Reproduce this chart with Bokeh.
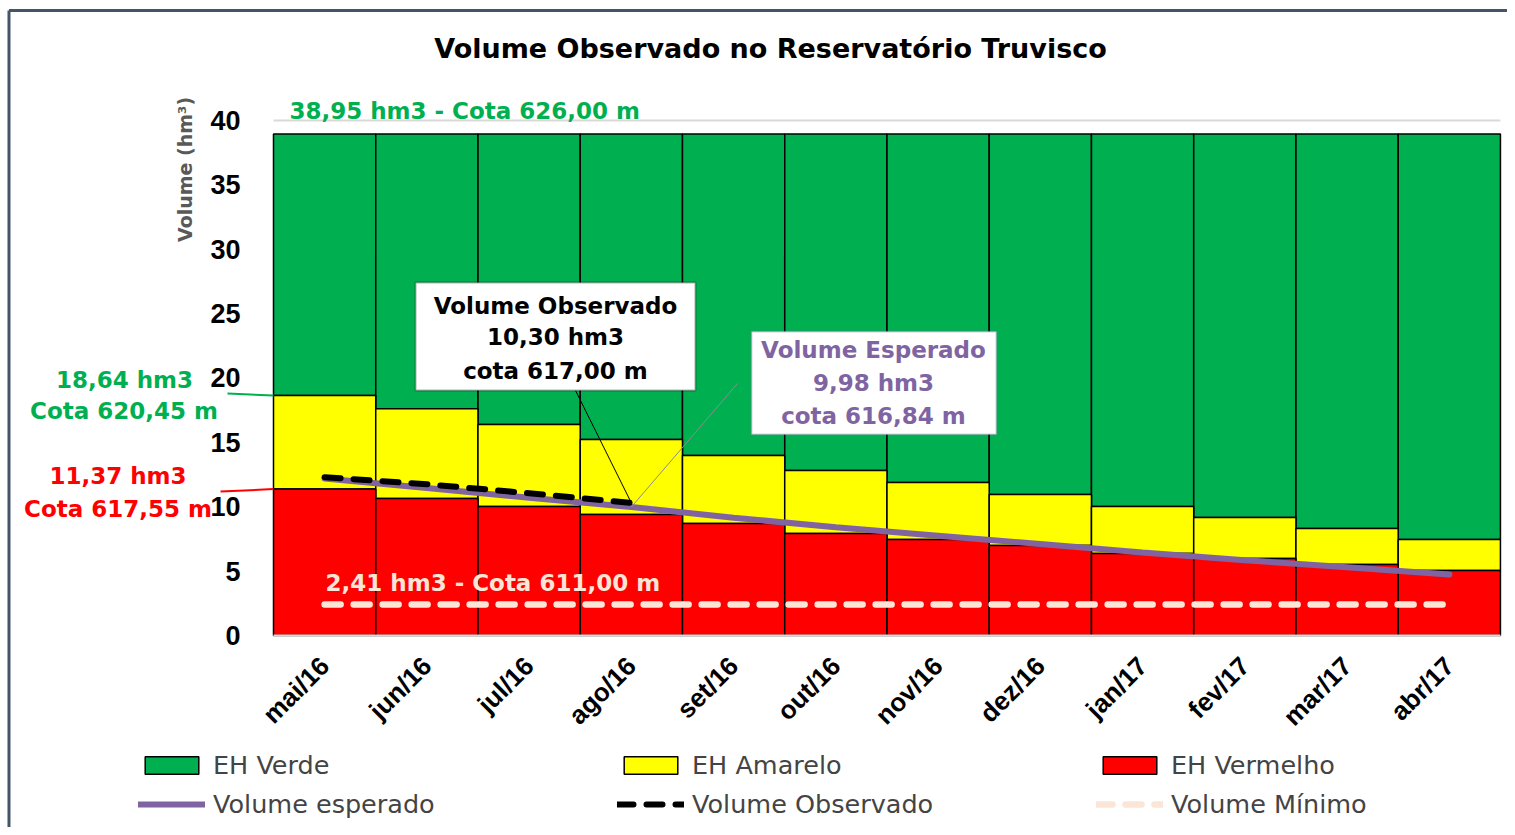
import math
from bokeh.plotting import figure
from bokeh.models import (ColumnDataSource, Range1d, Label, Legend, LegendItem,
                          BoxAnnotation, Arrow, FixedTicker, LinearAxis)
from bokeh.embed import file_html
from bokeh.resources import INLINE

# ---------------- data ----------------
meses = ["mai/16", "jun/16", "jul/16", "ago/16", "set/16", "out/16",
         "nov/16", "dez/16", "jan/17", "fev/17", "mar/17", "abr/17"]
# top of each band (hm3)
vermelho = [11.37, 10.64, 10.02, 9.39, 8.70, 7.92, 7.45, 6.99, 6.37, 5.98, 5.51, 5.05]
amarelo = [18.64, 17.62, 16.38, 15.22, 13.98, 12.81, 11.88, 10.95, 10.02, 9.16, 8.31, 7.45]
verde = [38.95] * 12
esperado = [12.20, 11.45, 10.70, 9.98, 9.15, 8.40, 7.75, 7.10, 6.45, 5.85, 5.30, 4.74]
observado = [12.30, 11.75, 11.05, 10.30]
minimo = [2.41] * 12
y_ticks = [0, 5, 10, 15, 20, 25, 30, 35, 40]

GREEN = "#00B050"
YELLOW = "#FFFF00"
RED = "#FF0000"
PURPLE = "#8064A2"
PEACH = "#FBE5D6"

idx = list(range(len(meses)))

W, H = 1507, 827
# frame covers the whole canvas; axes are drawn at fixed locations inside it
p = figure(width=W, height=H, x_range=Range1d(-3.170, 11.569), y_range=Range1d(-14.913, 49.320),
           output_backend="svg", toolbar_location=None, x_axis_type=None, y_axis_type=None,
           min_border_left=0, min_border_right=0, min_border_top=0, min_border_bottom=0)
p.outline_line_color = None
p.xgrid.visible = False
p.ygrid.visible = False
p.background_fill_color = "white"
p.border_fill_color = "white"

yax = LinearAxis(ticker=FixedTicker(ticks=y_ticks), fixed_location=-0.5, bounds=(0, 40))
yax.axis_line_color = None
yax.major_tick_line_color = None
yax.minor_tick_line_color = None
yax.major_label_standoff = 27
yax.major_label_text_font = "Liberation Sans"
yax.major_label_text_font_style = "bold"
yax.major_label_text_font_size = "27px"
yax.major_label_text_color = "black"
p.add_layout(yax, "left")

xax = LinearAxis(ticker=FixedTicker(ticks=idx), fixed_location=0, bounds=(-0.5, len(meses) - 0.5))
xax.major_label_overrides = {i: m for i, m in zip(idx, meses)}
xax.axis_line_color = "#D9D9D9"
xax.axis_line_width = 2
xax.major_tick_line_color = None
xax.minor_tick_line_color = None
xax.major_label_orientation = math.pi / 4
xax.major_label_standoff = 20
xax.major_label_text_font = "Liberation Sans"
xax.major_label_text_font_style = "bold"
xax.major_label_text_font_size = "26px"
xax.major_label_text_color = "black"
p.add_layout(xax, "below")

src = ColumnDataSource(dict(x=idx, zero=[0] * len(idx), vermelho=vermelho,
                            amarelo=amarelo, verde=verde))
r_verde = p.vbar(x="x", bottom="amarelo", top="verde", width=1.0, fill_color=GREEN,
                 line_color="black", line_width=1.5, source=src)
r_amarelo = p.vbar(x="x", bottom="vermelho", top="amarelo", width=1.0, fill_color=YELLOW,
                   line_color="black", line_width=1.5, source=src)
r_vermelho = p.vbar(x="x", bottom="zero", top="vermelho", width=1.0, fill_color=RED,
                    line_color="black", line_width=1.5, source=src)

r_min = p.line(idx, minimo, line_color=PEACH, line_width=6.5, line_dash="16 13", line_cap="round")
r_esp = p.line(idx, esperado, line_color=PURPLE, line_width=6, line_cap="round")
r_obs = p.line(idx[:len(observado)], observado, line_color="black", line_width=6,
               line_dash="16 13", line_cap="round")


def lab(x, y, text, color, size, align="left", font="DejaVu Sans", bold=True, angle=0.0):
    p.add_layout(Label(x=x, y=y, text=text, text_color=color, text_font_size=f"{size}px",
                       text_font=font, text_font_style="bold" if bold else "normal",
                       text_align=align, text_baseline="middle", angle=angle))


def seg(x0, y0, x1, y1, color, width):
    p.add_layout(Arrow(x_start=x0, y_start=y0, x_end=x1, y_end=y1, start=None, end=None,
                       line_color=color, line_width=width))


# plot-area top line at 40
seg(-0.5, 40, len(meses) - 0.5, 40, "#D9D9D9", 2)

# outer chart border (top and left)
seg(-3.087, 48.54, 11.6, 48.54, "#44546A", 3)
seg(-3.087, 48.54, -3.087, -15.0, "#44546A", 3)

# title and axis label
lab(4.361, 45.59, "Volume Observado no Reservatório Truvisco", "black", 27, align="center")
lab(-1.361, 36.2, "Volume (hm³)", "#595959", 19, align="center", angle=math.pi / 2)

# level annotations
lab(-0.344, 40.70, "38,95 hm3 - Cota 626,00 m", GREEN, 23)
lab(-1.957, 19.81, "18,64 hm3", GREEN, 23, align="center")
lab(-1.962, 17.40, "Cota 620,45 m", GREEN, 23, align="center")
seg(-0.950, 18.80, -0.5, amarelo[0], GREEN, 2)
lab(-2.021, 12.35, "11,37 hm3", RED, 23, align="center")
lab(-2.021, 9.86, "Cota 617,55 m", RED, 23, align="center")
seg(-1.018, 11.18, -0.5, vermelho[0], RED, 2)
lab(0.009, 4.04, "2,41 hm3 - Cota 611,00 m", PEACH, 23)

# callouts
seg(2.454, 19.03, idx[3], observado[3], "black", 1)
seg(4.038, 19.57, idx[3], esperado[3], "#8C8C8C", 1)
p.add_layout(BoxAnnotation(left=0.889, right=3.627, bottom=19.03, top=27.42,
                           fill_color="white", fill_alpha=1.0, line_color="black", line_width=2))
lab(2.258, 25.63, "Volume Observado", "black", 23, align="center")
lab(2.258, 23.15, "10,30 hm3", "black", 23, align="center")
lab(2.258, 20.58, "cota 617,00 m", "black", 23, align="center")
p.add_layout(BoxAnnotation(left=4.175, right=6.571, bottom=15.61, top=23.61,
                           fill_color="white", fill_alpha=1.0, line_color=PURPLE, line_width=2))
lab(5.368, 22.14, "Volume Esperado", PURPLE, 23, align="center")
lab(5.368, 19.65, "9,98 hm3", PURPLE, 23, align="center")
lab(5.368, 17.01, "cota 616,84 m", PURPLE, 23, align="center")

legend = Legend(items=[
    LegendItem(label="EH Verde", renderers=[r_verde]),
    LegendItem(label="EH Amarelo", renderers=[r_amarelo]),
    LegendItem(label="EH Vermelho", renderers=[r_vermelho]),
    LegendItem(label="Volume esperado", renderers=[r_esp]),
    LegendItem(label="Volume Observado", renderers=[r_obs]),
    LegendItem(label="Volume Mínimo", renderers=[r_min]),
], location=(138, 8), orientation="horizontal", ncols=3,
    glyph_width=67, glyph_height=22, label_width=395, label_height=30, spacing=9,
    padding=0, margin=0, border_line_color=None, background_fill_alpha=0,
    label_text_font="DejaVu Sans", label_text_font_size="25.5px", label_standoff=8)
p.add_layout(legend, "center")

open("out.html", "w").write(file_html(p, INLINE))
